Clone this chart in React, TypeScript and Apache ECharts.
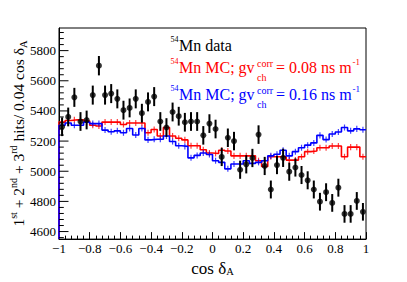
import React, { useEffect, useRef } from 'react';
import * as echarts from 'echarts';

// 50 bins of width 0.04 in cos(delta_A), from -1 to 1
const binLow = -1;
const binWidth = 0.04;
const nBins = 50;
const binCenters = Array.from({ length: nBins }, (_, i) => +(binLow + binWidth * (i + 0.5)).toFixed(2));
const binEdges = Array.from({ length: nBins + 1 }, (_, i) => +(binLow + binWidth * i).toFixed(2));

// 54Mn data (black points)
const dataCounts = [
  5295, 5360, 5490, 5330, 5340, 5505, 5700, 5505, 5515, 5480,
  5405, 5420, 5480, 5385, 5460, 5495, 5330, 5290, 5393, 5365,
  5325, 5330, 5330, 5238, 5316, 5280, 5095, 5222, 5200, 5010,
  5046, 5088, 5243, 5035, 4879, 5041, 5089, 4997, 5025, 4975,
  4940, 4879, 4798, 4861, 4790, 4891, 4717, 4717, 4803, 4731,
];

// 54Mn MC, gv = 0.08 ns/m (red)
const mcRed = [
  5326, 5337, 5341, 5341, 5333, 5305, 5300, 5326, 5326, 5326,
  5310, 5320, 5320, 5320, 5255, 5277, 5234, 5290, 5234, 5219,
  5208, 5169, 5169, 5143, 5121, 5118, 5139, 5134, 5102, 5102,
  5102, 5102, 5070, 5031, 5096, 5096, 5096, 5074, 5074, 5096,
  5130, 5134, 5156, 5156, 5167, 5167, 5096, 5160, 5160, 5096,
];

// 54Mn MC, gv = 0.16 ns/m (blue)
const mcBlue = [
  5305, 5320, 5305, 5305, 5326, 5316, 5316, 5273, 5262, 5268,
  5255, 5283, 5240, 5283, 5208, 5212, 5212, 5234, 5197, 5169,
  5165, 5089, 5105, 5121, 5111, 5070, 5059, 5016, 5048, 5048,
  5070, 5052, 5059, 5070, 5102, 5113, 5139, 5102, 5130, 5156,
  5173, 5188, 5238, 5210, 5247, 5260, 5290, 5268, 5281, 5275,
];

const mcErr = 20;

const yMin = 4550;
const yMax = 5950;
const yMajorTicks = [4600, 4800, 5000, 5200, 5400, 5600, 5800];
const yMinorTicks = [
  4560, 4640, 4680, 4720, 4760, 4840, 4880, 4920, 4960, 5040, 5080, 5120, 5160,
  5240, 5280, 5320, 5360, 5440, 5480, 5520, 5560, 5640, 5680, 5720, 5760, 5840, 5880, 5920,
];

const SERIF = 'Liberation Serif';

function stepPoints(vals: number[]) {
  const pts: number[][] = [[binEdges[0], yMin]];
  vals.forEach((v, i) => pts.push([binEdges[i], v]));
  pts.push([binEdges[nBins], vals[nBins - 1]]);
  return pts;
}

function errTickSeries(vals: number[], color: string) {
  return {
    type: 'custom',
    silent: true,
    z: 3,
    data: vals.map((v, i) => [binCenters[i], v]),
    renderItem: (params: any, api: any) => {
      const x = api.value(0);
      const y = api.value(1);
      const a = api.coord([x, y - mcErr]);
      const b = api.coord([x, y + mcErr]);
      return {
        type: 'line',
        shape: { x1: a[0], y1: a[1], x2: b[0], y2: b[1] },
        style: { stroke: color, lineWidth: 1.2, opacity: 0.75 },
      };
    },
  };
}

export default function App() {
  const ref = useRef<HTMLDivElement>(null);

  useEffect(() => {
    document.body.style.margin = '0';
    if (!ref.current) return;
    const chart = echarts.init(ref.current, undefined, { renderer: 'svg' });

    const yTickData = [
      ...yMajorTicks.map((v) => [binLow, v, 1]),
      ...yMinorTicks.map((v) => [binLow, v, 0]),
    ];

    const supStyle = { fontFamily: SERIF, fontSize: 10, color: '#000', verticalAlign: 'top' };
    const subStyle = { fontFamily: SERIF, fontSize: 10.5, color: '#000', verticalAlign: 'bottom' };

    const legendEntries = [
      { color: '#000000', base: 50.7, main: 'Mn data', mc: null as null | string },
      { color: '#ff0000', base: 73, main: 'Mn MC; gv', mc: '= 0.08 ns m' },
      { color: '#0000ff', base: 100, main: 'Mn MC; gv', mc: '= 0.16 ns m' },
    ];
    const graphics: any[] = [];
    legendEntries.forEach((e) => {
      const t = (text: string, x: number, y: number, size: number) => ({
        type: 'text',
        x,
        y,
        silent: true,
        style: {
          text,
          fill: e.color,
          font: `${size}px ${SERIF}`,
          textAlign: 'left',
          textVerticalAlign: 'middle',
        },
      });
      graphics.push(t('54', 170.5, e.base - 11.5, 8));
      graphics.push(t(e.main, 179, e.base - 5.6, 16));
      if (e.mc) {
        graphics.push(t('corr', 257, e.base - 9.5, 10));
        graphics.push(t('ch', 257, e.base + 4, 10));
        graphics.push(t(e.mc, 276, e.base - 5.6, 16));
        graphics.push(t('-1', 352.5, e.base - 11.5, 9));
      }
    });

    chart.setOption({
      animation: false,
      backgroundColor: '#ffffff',
      textStyle: { fontFamily: SERIF },
      grid: {
        left: 51,
        right: 41,
        top: 28,
        bottom: 37,
        show: true,
        borderColor: '#000',
        borderWidth: 1,
        backgroundColor: 'transparent',
      },
      xAxis: {
        type: 'value',
        min: -1,
        max: 1,
        interval: 0.2,
        name: 'cos δ{sub|A}',
        nameLocation: 'middle',
        nameGap: 15,
        nameTextStyle: {
          fontFamily: SERIF,
          fontSize: 17,
          color: '#000',
          rich: { sub: subStyle },
        },
        axisLine: { show: true, onZero: false, lineStyle: { color: '#000', width: 1 } },
        axisTick: { show: true, inside: true, length: 7, lineStyle: { color: '#000' } },
        minorTick: { show: true, splitNumber: 5, length: 3.5, lineStyle: { color: '#000' } },
        splitLine: { show: false },
        minorSplitLine: { show: false },
        axisLabel: {
          color: '#000',
          fontFamily: SERIF,
          fontSize: 13,
          margin: 3,
          formatter: (v: number) => {
            const r = Math.round(v * 10) / 10;
            return r < 0 ? '\u2212' + Math.abs(r) : String(r);
          },
        },
      },
      yAxis: {
        type: 'value',
        min: yMin,
        max: yMax,
        name: '1{sup|st} + 2{sup|nd} + 3{sup|rd} hits/ 0.04 cos δ{sub|A}',
        nameLocation: 'middle',
        nameGap: 30,
        nameRotate: 90,
        nameTextStyle: {
          fontFamily: SERIF,
          fontSize: 15.5,
          color: '#000',
          lineHeight: 21,
          rich: { sup: supStyle, sub: subStyle },
        },
        axisLine: { show: true, onZero: false, lineStyle: { color: '#000', width: 1 } },
        axisTick: { show: false },
        axisLabel: { show: false },
        splitLine: { show: false },
      },
      graphic: graphics,
      series: [
        {
          type: 'custom',
          silent: true,
          clip: false,
          z: 6,
          data: yTickData,
          renderItem: (params: any, api: any) => {
            const v = api.value(1);
            const major = api.value(2) === 1;
            const p = api.coord([binLow, v]);
            const children: any[] = [
              {
                type: 'line',
                shape: { x1: p[0], y1: p[1], x2: p[0] + (major ? 9.5 : 4.8), y2: p[1] },
                style: { stroke: '#000', lineWidth: 1 },
              },
            ];
            if (major) {
              children.push({
                type: 'text',
                x: p[0] - 3,
                y: p[1],
                style: {
                  text: String(v),
                  fill: '#000',
                  font: `13px ${SERIF}`,
                  textAlign: 'right',
                  textVerticalAlign: 'middle',
                },
              });
            }
            return { type: 'group', children };
          },
        },
        {
          type: 'line',
          name: 'MC 0.08',
          data: stepPoints(mcRed),
          step: 'end',
          showSymbol: false,
          silent: true,
          z: 2,
          lineStyle: { color: '#ff0000', width: 1.6 },
          itemStyle: { color: '#ff0000' },
        },
        errTickSeries(mcRed, '#ff0000'),
        {
          type: 'line',
          name: 'MC 0.16',
          data: stepPoints(mcBlue),
          step: 'end',
          showSymbol: false,
          silent: true,
          z: 3,
          lineStyle: { color: '#0000ff', width: 1.6 },
          itemStyle: { color: '#0000ff' },
        },
        errTickSeries(mcBlue, '#0000ff'),
        {
          type: 'custom',
          silent: true,
          z: 4,
          data: dataCounts.map((v, i) => [binCenters[i], v, Math.sqrt(v) * 0.85]),
          renderItem: (params: any, api: any) => {
            const x = api.value(0);
            const y = api.value(1);
            const e = api.value(2);
            const a = api.coord([x, y - e]);
            const b = api.coord([x, y + e]);
            return {
              type: 'line',
              shape: { x1: a[0], y1: a[1], x2: b[0], y2: b[1] },
              style: { stroke: '#000', lineWidth: 2 },
            };
          },
        },
        {
          type: 'scatter',
          name: 'data',
          data: dataCounts.map((v, i) => [binCenters[i], v]),
          symbol: 'circle',
          symbolSize: 6,
          silent: true,
          z: 5,
          itemStyle: { color: '#000' },
        },
      ],
    });

    return () => chart.dispose();
  }, []);

  return <div ref={ref} style={{ width: 407, height: 282 }} />;
}
